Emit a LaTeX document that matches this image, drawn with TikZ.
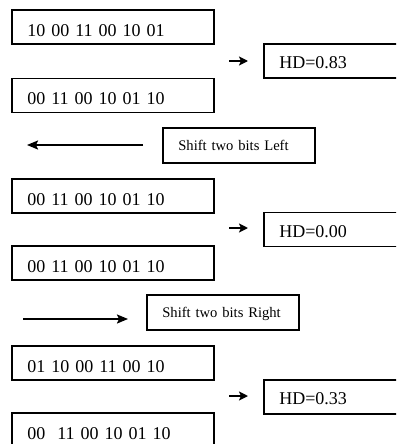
\documentclass[tikz,border=0pt]{standalone}
\usepackage{fontspec}
\setmainfont{Liberation Serif}
\usetikzlibrary{arrows.meta}

\tikzset{
  frame/.style={draw=black, line width=1.7pt, rectangle, inner xsep=15.5pt, inner ysep=0pt,
    anchor=north west, align=left},
  bitbox/.style={frame, minimum width=202pt, text width=171pt, minimum height=34pt,
    text height=19pt, text depth=0pt, font=\fontsize{18}{20}\selectfont},
  hdbox/.style={frame, minimum width=160pt, text width=129pt, minimum height=34pt,
    text height=16pt, text depth=0pt, font=\fontsize{18}{20}\selectfont},
  shiftbox/.style={frame, minimum width=152pt, text width=121pt, minimum height=35pt,
    text height=10pt, text depth=0pt, font=\fontsize{14.6}{17}\selectfont},
  smallarr/.style={line width=1.8pt, -{Stealth[length=9pt,width=9pt,inset=2pt]}},
  longarr/.style={line width=1.8pt, -{Stealth[length=11pt,width=9pt,inset=2pt]}},
}

\begin{document}
\begin{tikzpicture}[x=1pt,y=-1pt]
  \useasboundingbox (0,0) rectangle (396,444);
  \clip (0,0) rectangle (396,444);
  \fill[white] (0,0) rectangle (396,444);

  % first comparison
  \node[bitbox] (b1) at (11,9.5) {10 00 11 00 10 01};
  \node[bitbox] (b2) at (11,77.5) {00 11 00 10 01 10};
  \node[hdbox]  (h1) at (263,43) {HD=0.83};
  \coordinate (p1) at (229,61);
  \coordinate (q1) at (248,61);
  \draw[smallarr] (p1) -- (q1);

  % shift left
  \node[shiftbox] (sl) at (162,127) {\mbox{Shift two bits Left}};
  \coordinate (p2) at (143,145);
  \coordinate (q2) at (27,145);
  \draw[longarr] (p2) -- (q2);

  % second comparison
  \node[bitbox] (b3) at (11,178) {00 11 00 10 01 10};
  \node[bitbox] (b4) at (11,245) {00 11 00 10 01 10};
  \node[hdbox]  (h2) at (263,211.5) {HD=0.00};
  \coordinate (p3) at (229,228);
  \coordinate (q3) at (248,228);
  \draw[smallarr] (p3) -- (q3);

  % shift right
  \node[shiftbox] (sr) at (146,294) {\mbox{Shift two bits Right}};
  \coordinate (p4) at (23,319);
  \coordinate (q4) at (128,319);
  \draw[longarr] (p4) -- (q4);

  % third comparison
  \node[bitbox] (b5) at (11,345) {01 10 00 11 00 10};
  \node[bitbox] (b6) at (11,412) {00\ \ 11 00 10 01 10};
  \node[hdbox]  (h3) at (263,379) {HD=0.33};
  \coordinate (p5) at (229,396);
  \coordinate (q5) at (248,396);
  \draw[smallarr] (p5) -- (q5);
\end{tikzpicture}
\end{document}
